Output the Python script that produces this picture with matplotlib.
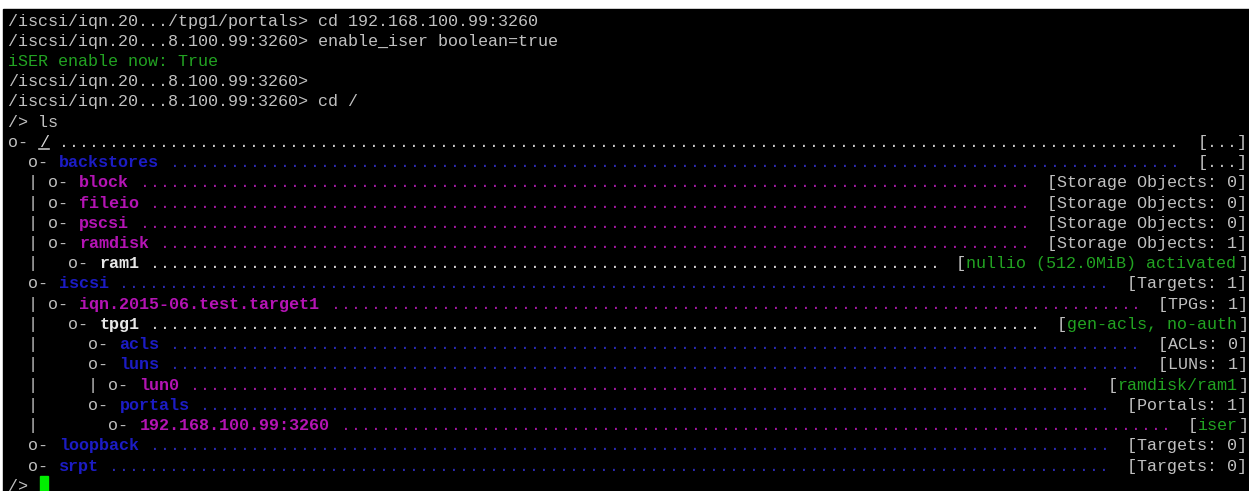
import matplotlib
matplotlib.use("Agg")
import matplotlib.pyplot as plt
from matplotlib.patches import Rectangle

# ---- terminal session (targetcli) ----
shell_lines = [
    "/iscsi/iqn.20.../tpg1/portals> cd 192.168.100.99:3260",
    "/iscsi/iqn.20...8.100.99:3260> enable_iser boolean=true",
    "iSER enable now: True",
    "/iscsi/iqn.20...8.100.99:3260>",
    "/iscsi/iqn.20...8.100.99:3260> cd /",
    "/> ls",
]
shell_ok = [False, False, True, False, False, False]

tree_prefix = [
    "o- ", "  o- ", "  | o- ", "  | o- ", "  | o- ", "  | o- ", "  |   o- ",
    "  o- ", "  | o- ", "  |   o- ", "  |     o- ", "  |     o- ", "  |     | o- ",
    "  |     o- ", "  |       o- ", "  o- ", "  o- ",
]
tree_names = [
    "/", "backstores", "block", "fileio", "pscsi", "ramdisk", "ram1",
    "iscsi", "iqn.2015-06.test.target1", "tpg1", "acls", "luns", "lun0",
    "portals", "192.168.100.99:3260", "loopback", "srpt",
]
# root / group (blue) / item (magenta) / leaf (white)
tree_kind = [
    "root", "group", "item", "item", "item", "item", "leaf",
    "group", "item", "leaf", "group", "group", "item",
    "group", "item", "group", "group",
]
tree_status = [
    "...", "...", "Storage Objects: 0", "Storage Objects: 0", "Storage Objects: 0",
    "Storage Objects: 1", "nullio (512.0MiB) activated",
    "Targets: 1", "TPGs: 1", "gen-acls, no-auth", "ACLs: 0", "LUNs: 1",
    "ramdisk/ram1", "Portals: 1", "iser", "Targets: 0", "Targets: 0",
]
tree_status_ok = [
    False, False, False, False, False, False, True,
    False, False, True, False, False, True, False, True, False, False,
]
last_prompt = "/> "

# ---- look ----
COLS = 123
X0, CW = 8.5, 10.08      # first column, cell width (px)
Y0, LH = 25.5, 20.23     # first baseline, line height (px)
FS = CW / 0.6001 * 0.72  # font size giving a CW-wide cell
FONT = "Liberation Mono"

GRAY = "#c0c0c0"
GREEN = "#22a322"
name_col = {"root": "#d8d8d8", "group": "#1c1cc4", "item": "#b414b4", "leaf": "#e8e8e8"}
dot_col = {"root": "#c8c8c8", "group": "#2a2ab0", "item": "#a018a0", "leaf": "#d0d0d0"}

fig = plt.figure(figsize=(12.49, 4.91), dpi=100, facecolor="white")
ax = fig.add_axes([0, 0, 1, 1])
ax.set_xlim(0, 1249)
ax.set_ylim(491, 0)
ax.axis("off")
ax.add_patch(Rectangle((3, 9), 1246, 482, color="black", zorder=0))


def put(col, row, s, color, bold=False):
    ax.text(X0 + col * CW, Y0 + row * LH, s, color=color, fontsize=FS,
            family=FONT, fontweight="bold" if bold else "normal",
            ha="left", va="baseline")


for i, line in enumerate(shell_lines):
    put(0, i, line, GREEN if shell_ok[i] else GRAY)

row0 = len(shell_lines)
for i, name in enumerate(tree_names):
    row = row0 + i
    kind = tree_kind[i]
    pre = tree_prefix[i]
    put(0, row, pre, GRAY)
    col = len(pre)
    put(col, row, name, name_col[kind], bold=(kind != "root"))
    if kind == "root":
        ax.plot([X0 + col * CW, X0 + (col + len(name)) * CW],
                [Y0 + row * LH + 2.5] * 2, color=GRAY, lw=1.2)
    status = "[" + tree_status[i] + "]"
    scol = COLS - len(status)
    dcol = col + len(name) + 1
    put(dcol, row, "." * (scol - 1 - dcol), dot_col[kind])
    if tree_status_ok[i]:
        put(scol, row, "[", GRAY)
        put(scol + 1, row, tree_status[i], GREEN)
        put(COLS - 1, row, "]", GRAY)
    else:
        put(scol, row, status, GRAY)

row = row0 + len(tree_names)
put(0, row, last_prompt, GRAY)
cx = X0 + len(last_prompt) * CW
ax.add_patch(Rectangle((cx + 1, Y0 + row * LH - 15), CW - 2, 16, color="#00ee00"))

fig.savefig("out.png", dpi=100, facecolor="white")
